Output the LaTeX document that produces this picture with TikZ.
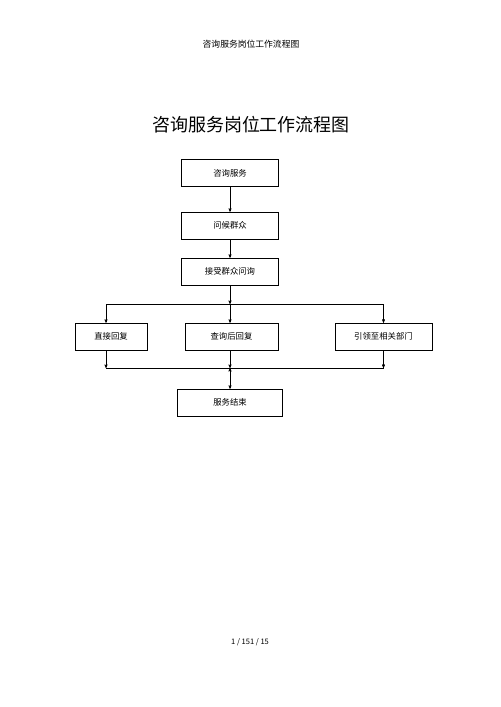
\documentclass[tikz,border=0pt]{standalone}
\usepackage{fontspec}
\setmainfont{Noto Sans CJK SC}
\usetikzlibrary{arrows}
\usetikzlibrary{positioning}

\tikzset{
  stepbox/.style={draw,rectangle,line width=0.6pt,minimum height=1.13cm,
    inner sep=0pt,font=\fontsize{10}{12}\selectfont},
  flow/.style={draw,line width=0.6pt,->,>=stealth'}
}

\begin{document}
\begin{tikzpicture}[x=0.042cm,y=-0.042cm]

  \useasboundingbox (0,0) rectangle (500,707);

  \node [font=\fontsize{10.5}{12}\selectfont] (header) at (251,44) {咨询服务岗位工作流程图};
  \node [font=\fontsize{21.5}{24}\selectfont] (title) at (251,125) {咨询服务岗位工作流程图};

  \node [stepbox,minimum width=4.07cm] (ask)    at (230,173)   {咨询服务};
  \node [stepbox,minimum width=4.07cm] (wait)   at (230,225.5) {问候群众};
  \node [stepbox,minimum width=4.07cm] (accept) at (230,271.5) {接受群众问询};

  \node [stepbox,minimum width=3.02cm] (direct) at (111,336.5)   {直接回复};
  \node [stepbox,minimum width=3.91cm] (lookup) at (231.5,336.5) {查询后回复};
  \node [stepbox,minimum width=4.07cm] (guide)  at (383.5,336.5) {引领至相关部门};

  \node [stepbox,minimum width=4.41cm] (done)   at (230,402.5) {服务结束};

  \coordinate (split) at (230,304);
  \coordinate (merge) at (230,368);
  \coordinate (left)  at (106,304);

  \node [font=\fontsize{9}{10}\selectfont] (page) at (250,642) {1 / 151 / 15};

  \path [flow]
    (ask)    edge (wait)
    (wait)   edge (accept)
    (accept) edge (split)
    (split)  edge (split |- lookup.north)
    (left |- direct.south) edge (left |- merge)
    (lookup.south -| split) edge (merge)
    (guide.south)  edge (guide.south |- merge)
    (merge)  edge (done);

  \draw [flow] (split) -- (left) -- (left |- direct.north);
  \draw [flow] (split) -| (guide.north);
  \draw [line width=0.6pt] (left |- merge) -- (guide.south |- merge);

\end{tikzpicture}
\end{document}
